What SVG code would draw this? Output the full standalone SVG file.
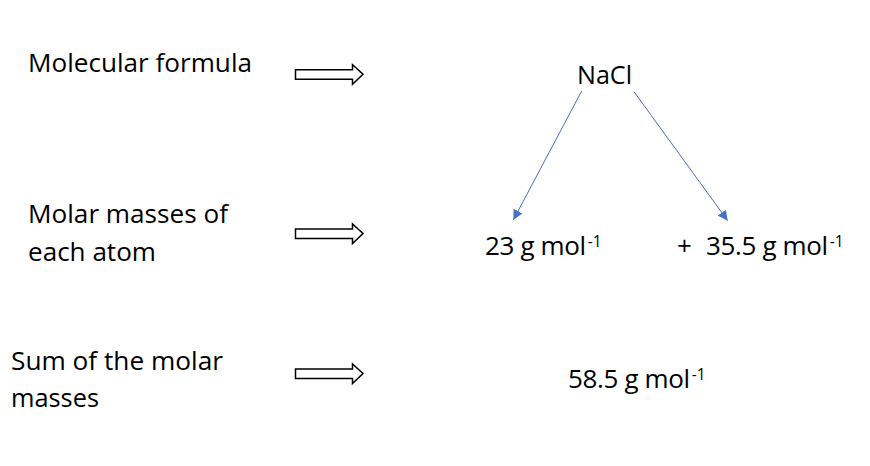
<svg xmlns="http://www.w3.org/2000/svg" width="870" height="466" viewBox="0 0 870 466">
<style>
.t{font-family:"Open Sans","Liberation Sans",sans-serif;font-size:26px;fill:#000}
.v{letter-spacing:-0.35px}
.s{font-size:15.5px;letter-spacing:0}
.blk{fill:#fff;stroke:#000;stroke-width:1.5}
.con{stroke:#4472C4;stroke-width:1;fill:none}
</style>
<defs>
<marker id="ah" viewBox="0 0 10 10" refX="10" refY="5" markerWidth="10" markerHeight="10" markerUnits="userSpaceOnUse" orient="auto">
<path d="M0,0 L10,5 L0,10 z" fill="#4472C4"/>
</marker>
<polygon id="blockarrow" points="0,-4.5 57,-4.5 57,-9.5 67.5,0 57,10 57,5 0,5"/>
</defs>
<rect width="870" height="466" fill="#fff"/>
<g id="label-molecular-formula"><text class="t" x="28" y="72" textLength="224" lengthAdjust="spacingAndGlyphs">Molecular formula</text></g>
<g id="label-molar-masses"><text class="t" x="28" y="223" textLength="200" lengthAdjust="spacingAndGlyphs">Molar masses of</text><text class="t" x="28" y="261" textLength="128" lengthAdjust="spacingAndGlyphs">each atom</text></g>
<g id="label-sum"><text class="t" x="11" y="370" textLength="212" lengthAdjust="spacingAndGlyphs">Sum of the molar</text><text class="t" x="11" y="407" textLength="88" lengthAdjust="spacingAndGlyphs">masses</text></g>
<g id="block-arrows">
<use href="#blockarrow" class="blk" x="295.5" y="74.2"/>
<use href="#blockarrow" class="blk" x="295.5" y="233.5"/>
<use href="#blockarrow" class="blk" x="295.5" y="373.5"/>
</g>
<g id="node-nacl"><text class="t" x="577" y="83.5" textLength="55" lengthAdjust="spacingAndGlyphs">NaCl</text></g>
<g id="node-na"><text class="t v" x="485" y="255">23 g mol<tspan class="s" dx="2" dy="-8">-1</tspan></text></g>
<g id="node-cl"><text class="t v" x="677" y="255">+<tspan x="706">35.5 g mol</tspan><tspan class="s" dx="2" dy="-8">-1</tspan></text></g>
<g id="node-sum"><text class="t v" x="568" y="388">58.5 g mol<tspan class="s" dx="2" dy="-8">-1</tspan></text></g>
<g id="connectors">
<line class="con" x1="581.7" y1="91" x2="513.3" y2="220" marker-end="url(#ah)"/>
<line class="con" x1="634" y1="91.7" x2="727.7" y2="220.7" marker-end="url(#ah)"/>
</g>
</svg>
